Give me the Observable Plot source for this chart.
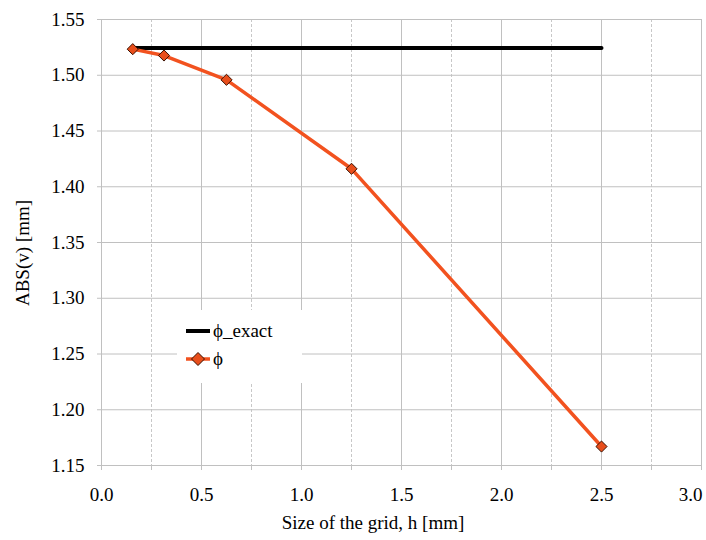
<!DOCTYPE html>
<html>
<head>
<meta charset="utf-8">
<script src="https://cdn.jsdelivr.net/npm/d3@7"></script>
<script src="https://cdn.jsdelivr.net/npm/@observablehq/plot@0.6"></script>
<style>
  body { margin: 0; background: #fff; }
  #wrap { position: relative; width: 706px; height: 540px; overflow: hidden; font-family: 'Liberation Serif', 'DejaVu Serif', serif; color: #000; }
  .lbl { position: absolute; font-size: 19px; white-space: nowrap; }
  #legend { position: absolute; left: 177px; top: 310px; width: 125px; height: 73px; background: #fff; }
  #legend .row { position: absolute; left: 8px; height: 24px; display: flex; align-items: center; font-size: 19px; }
  svg text { font-family: 'Liberation Serif', 'DejaVu Serif', serif; }
</style>
</head>
<body>
<div id="wrap"></div>
<script>
// Data
const gridSize = [0.15625, 0.3125, 0.625, 1.25, 2.5];
const phiValues = [1.5234, 1.5177, 1.4959, 1.4161, 1.1670];
const phiExact = 1.5245;
const xMajorTicks = [0.0, 0.5, 1.0, 1.5, 2.0, 2.5, 3.0];
const xMinorTicks = [0.25, 0.75, 1.25, 1.75, 2.25, 2.75];
const xAllTicks = [0.0, 0.25, 0.5, 0.75, 1.0, 1.25, 1.5, 1.75, 2.0, 2.25, 2.5, 2.75, 3.0];
const yTicks = [1.15, 1.20, 1.25, 1.30, 1.35, 1.40, 1.45, 1.50, 1.55];
const seriesNames = ["\u03D5_exact", "\u03D5"];

const phiData = gridSize.map((h, i) => ({h, v: phiValues[i]}));
const exactData = [gridSize[0], gridSize[gridSize.length - 1]].map(h => ({h, v: phiExact}));

const orange = "#f2521f";
const gridColor = "#c0c0c0";
const fmtX = d3.format(".1f");

const chart = Plot.plot({
  width: 706,
  height: 540,
  marginLeft: 101,
  marginRight: 5,
  marginTop: 19,
  marginBottom: 75,
  style: {fontFamily: "'Liberation Serif', 'DejaVu Serif', serif", fontSize: "19px", color: "#000", background: "#fff"},
  x: {domain: [0, 3], axis: null},
  y: {domain: [1.15, 1.55], axis: null},
  marks: [
    Plot.ruleX(xMinorTicks, {stroke: "#c8c8c8", strokeDasharray: "3,2", strokeWidth: 1}),
    Plot.ruleX(xMajorTicks, {stroke: gridColor, strokeWidth: 1}),
    Plot.ruleY(yTicks, {stroke: gridColor, strokeWidth: 1}),
    Plot.axisX({ticks: xAllTicks, tickSize: 5, tickFormat: () => "", stroke: gridColor, label: null}),
    Plot.axisX({ticks: xMajorTicks.slice(0, -1), tickSize: 0, tickPadding: 22, tickFormat: fmtX, label: null, fill: "#000"}),
    Plot.axisX({ticks: xMajorTicks.slice(-1), tickSize: 0, tickPadding: 22, tickFormat: fmtX, label: null, fill: "#000", dx: -11}),
    Plot.axisY({ticks: yTicks, tickSize: 4, tickFormat: () => "", stroke: gridColor, label: null}),
    Plot.axisY({ticks: yTicks, tickSize: 0, tickPadding: 17, tickFormat: d3.format(".2f"), label: null, fill: "#000"}),
    Plot.line(exactData, {x: "h", y: "v", stroke: "#000", strokeWidth: 4}),
    Plot.line(phiData, {x: "h", y: "v", stroke: orange, strokeWidth: 3.5}),
    Plot.dot(phiData, {x: "h", y: "v", symbol: "diamond2", r: 5, fill: "#e84e1b", stroke: "#3a1000", strokeWidth: 1})
  ]
});

const wrap = document.getElementById("wrap");
wrap.appendChild(chart);

// Axis titles
const xl = document.createElement("div");
xl.className = "lbl";
xl.textContent = "Size of the grid, h [mm]";
xl.style.left = "373px";
xl.style.top = "523px";
xl.style.transform = "translate(-50%, -50%)";
wrap.appendChild(xl);

const yl = document.createElement("div");
yl.className = "lbl";
yl.textContent = "ABS(v) [mm]";
yl.style.left = "23px";
yl.style.top = "253px";
yl.style.transform = "translate(-50%, -50%) rotate(-90deg)";
wrap.appendChild(yl);

// Legend
const legend = document.createElement("div");
legend.id = "legend";
legend.innerHTML = `
  <div class="row" style="top:9px"><svg width="28" height="24"><line x1="1" x2="25" y1="12" y2="12" stroke="#000" stroke-width="4"/></svg><span>${seriesNames[0]}</span></div>
  <div class="row" style="top:37px"><svg width="28" height="24"><line x1="1" x2="25" y1="12" y2="12" stroke="${orange}" stroke-width="3.5"/><path d="M13,5.5L19.5,12L13,18.5L6.5,12Z" fill="#e84e1b" stroke="#3a1000" stroke-width="1"/></svg><span>${seriesNames[1]}</span></div>
`;
wrap.appendChild(legend);
</script>
</body>
</html>
